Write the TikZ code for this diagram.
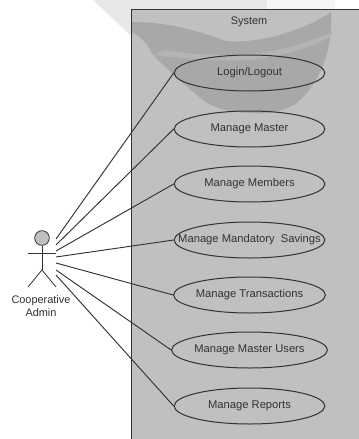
\documentclass[tikz,border=0pt]{standalone}
\usepackage{fontspec}
\setmainfont{Liberation Sans}
\usepackage{tikz}
\usetikzlibrary{shapes.geometric}
\definecolor{systemgray}{RGB}{192,192,192}
\definecolor{waterlight}{RGB}{232,232,232}
\definecolor{waterpale}{RGB}{245,245,245}
\definecolor{watermid}{RGB}{168,168,168}
\definecolor{waterstreak}{RGB}{180,180,180}
\definecolor{inkgray}{RGB}{50,50,50}
\tikzstyle{usecase}=[draw=inkgray,line width=0.75pt,ellipse,minimum width=113pt,minimum height=27pt,inner sep=0pt,text=inkgray,font=\fontsize{8.4}{10}\selectfont]
\tikzstyle{link}=[draw=inkgray,line width=0.7pt]
\tikzstyle{stick}=[draw=inkgray,line width=0.6pt]
\tikzstyle{caption}=[text=inkgray,font=\fontsize{8.2}{10}\selectfont]
\begin{document}
\begin{tikzpicture}[x=0.75pt,y=-0.75pt]
		\useasboundingbox (0,0) rectangle (359,439);
		\fill[white] (0,0) rectangle (359,439);
		% watermark outside the box
		\fill[waterlight] (93,0) -- (131,36) -- (131,9) -- (267,9) -- (267,0) -- (93,0);
		\fill[waterpale] (267,0) -- (267,9) -- (335,9) -- (335,0) -- (267,0);
		% system box
		\fill[systemgray] (131,9) rectangle (359,439);
		\begin{scope}
			\clip (131,9) rectangle (359,439);
			% whole mark, then the pale streak across it
			\fill[watermid] (131,22) .. controls (175,22) and (205,34) .. (226,41) .. controls (260,44) and (305,30) .. (331,12) .. controls (334,50) and (318,85) .. (297,103) .. controls (280,113) and (265,114) .. (250,113) .. controls (235,113) and (220,110) .. (207,103) .. controls (190,90) and (170,72) .. (153,55) .. controls (148,44) and (140,36) .. (131,32) -- cycle;
			\fill[waterstreak] (165,50) .. controls (185,54) and (215,56) .. (250,54) .. controls (275,52) and (305,44) .. (333,32) -- (331,36) .. controls (310,48) and (285,56) .. (250,60) .. controls (215,62) and (180,58) .. (153,55) -- cycle;
		\end{scope}
		\draw[draw=inkgray,line width=0.7pt] (359,9) -- (131,9) -- (131,439);
		% use cases
		\node[usecase] (login) at (249.5,73) {Login/Logout};
		\node[usecase] (master) at (249.5,129) {Manage Master};
		\node[usecase] (members) at (249.5,184) {Manage Members};
		\node[usecase,label=center:{\fontsize{8.4}{10}\selectfont\color{inkgray}Manage Mandatory\ \ Savings}] (savings) at (249.5,240) {};
		\node[usecase] (transactions) at (249.5,295) {Manage Transactions};
		\node[usecase] (users) at (249.5,350) {Manage Master Users};
		\node[usecase] (reports) at (249.5,406) {Manage Reports};
		\node[caption] (system) at (249,22) {System};
		% actor
		\node[circle,draw=inkgray,fill=systemgray,line width=0.6pt,minimum size=11pt,inner sep=0pt] (head) at (42,238) {};
		\coordinate (hip) at (42,270);
		\coordinate (armleft) at (28,253);
		\coordinate (armright) at (56,253);
		\coordinate (footleft) at (28,287);
		\coordinate (footright) at (56,287);
		\draw[stick] (head) -- (hip);
		\draw[stick] (armleft) -- (armright);
		\draw[stick] (footleft) -- (hip) -- (footright);
		\node[caption] (actor) at (41,300.5) {Cooperative};
		\node[caption] (actorb) at (41,313) {Admin};
		% links
		\coordinate (enda) at (56,239);
		\coordinate (endb) at (56,245);
		\coordinate (endc) at (56,251);
		\coordinate (endd) at (56,257);
		\coordinate (ende) at (56,263);
		\coordinate (endf) at (56,270);
		\coordinate (endg) at (56,275);
		\draw[link] (enda) -- (login.west);
		\draw[link] (endb) -- (master.west);
		\draw[link] (endc) -- (members.west);
		\draw[link] (endd) -- (savings.west);
		\draw[link] (ende) -- (transactions.west);
		\draw[link] (endf) -- (users.west);
		\draw[link] (endg) -- (reports.west);
	\end{tikzpicture}
\end{document}
